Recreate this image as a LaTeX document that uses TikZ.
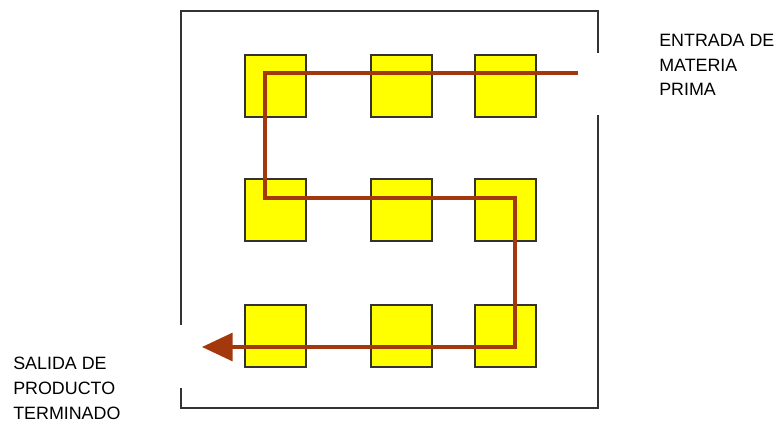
\documentclass[tikz,border=0pt]{standalone}
\usepackage{fontspec}
\setmainfont{Liberation Sans}
\usetikzlibrary{arrows.meta}
\definecolor{flow}{HTML}{A3380C}
\definecolor{wall}{HTML}{333333}
\definecolor{mfill}{HTML}{FFFF00}
\begin{document}
\begin{tikzpicture}[x=0.75pt,y=-0.75pt,
  machine/.style={draw=wall,line width=1.3pt,fill=mfill,minimum width=45.75pt,minimum height=46.5pt,inner sep=0pt,anchor=north west},
  wallline/.style={draw=wall,line width=1.5pt},
  flowline/.style={draw=flow,line width=2.4pt},
  lbl/.style={font=\fontsize{13.4}{18.5}\selectfont,align=left,inner sep=0pt,anchor=north west}]
\useasboundingbox (0,0) rectangle (782,422);
% outer walls
\draw[wallline] (181,325) -- (181,11) -- (598,11) -- (598,53);
\draw[wallline] (598,115) -- (598,408) -- (181,408) -- (181,388);
% machines
\foreach \r/\y in {1/54,2/178,3/304}{
  \node[machine] (m\r a) at (244,\y) {};
  \node[machine] (m\r b) at (370,\y) {};
  \node[machine] (m\r c) at (474,\y) {};
}
% flow coordinates
\coordinate (in) at (578,73);
\coordinate (c1) at (265,73);
\coordinate (c2) at (265,198);
\coordinate (c3) at (515,198);
\coordinate (c4) at (515,347);
\coordinate (out) at (202,347);
\draw[flowline,line join=miter,-{Triangle[length=23pt,width=21pt]}] (in) -- (c1) -- (c2) -- (c3) -- (c4) -- (out);
% labels
\node[lbl] (entrada) at (659,34) {ENTRADA DE\\MATERIA\\PRIMA};
\node[lbl] (salida) at (13,357) {SALIDA DE\\PRODUCTO\\TERMINADO};
\end{tikzpicture}
\end{document}
